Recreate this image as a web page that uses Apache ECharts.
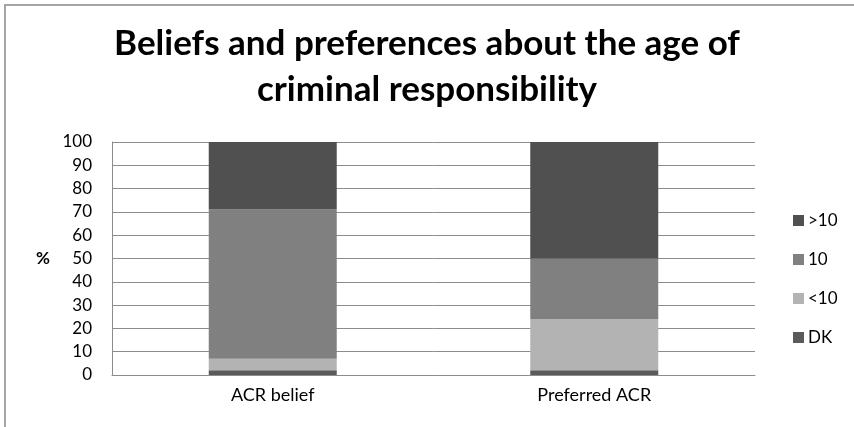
<!DOCTYPE html>
<html><head><meta charset="utf-8">
<script src="https://cdn.jsdelivr.net/npm/echarts@6/dist/echarts.min.js"></script>
<style>html,body{margin:0;padding:0;background:#fff}#c{width:854px;height:427px}</style>
</head><body><div id="c"></div>
<script>
const categories = ['ACR belief', 'Preferred ACR'];
const dk = [2, 2];
const lt10 = [5, 22];
const eq10 = [64, 26];
const gt10 = [29, 50];
const yTicks = [0, 10, 20, 30, 40, 50, 60, 70, 80, 90, 100];

const FONT = 'Lato';
const chart = echarts.init(document.getElementById('c'), null, {renderer: 'canvas'});
const mk = (name, data, color) => ({
  name, type: 'bar', stack: 'a', data, barWidth: 128,
  itemStyle: {color}, emphasis: {disabled: true}
});
chart.setOption({
  animation: false,
  textStyle: {fontFamily: FONT},
  title: {
    text: 'Beliefs and preferences about the age of\ncriminal responsibility',
    left: 'center', top: 16,
    textStyle: {fontFamily: FONT, fontWeight: 'bold', fontSize: 35, color: '#000', lineHeight: 46}
  },
  graphic: [{type: 'rect', shape: {x: 5, y: 5, width: 1000, height: 1000},
    style: {fill: 'none', stroke: '#a6a6a6', lineWidth: 2}, silent: true},
    {type: 'text', left: 36, top: 250, style: {text: '%', font: 'bold 17px ' + FONT, fill: '#000'}}],
  legend: {
    orient: 'vertical', left: 788, top: 207, itemWidth: 11, itemHeight: 11, itemGap: 22,
    icon: 'rect', data: ['>10', '10', '<10', 'DK'],
    textStyle: {fontFamily: FONT, fontSize: 17, color: '#000', padding: [0, 0, 0, -1]}
  },
  grid: {left: 112, right: 99, top: 142, bottom: 52, containLabel: false},
  xAxis: {
    type: 'category', data: categories,
    axisLine: {lineStyle: {color: '#8c8c8c', width: 1}},
    axisTick: {show: false},
    axisLabel: {fontFamily: FONT, fontSize: 18, color: '#000', margin: 11}
  },
  yAxis: {
    type: 'value', min: 0, max: 100, interval: 10,
    axisLine: {show: true, lineStyle: {color: '#8c8c8c'}},
    axisTick: {show: false},
    splitLine: {lineStyle: {color: '#8c8c8c', width: 1}},
    axisLabel: {fontFamily: FONT, fontSize: 17, color: '#000', margin: 20,
      formatter: v => yTicks.includes(v) ? String(v) : ''}
  },
  series: [
    mk('DK', dk, '#5a5a5a'),
    mk('<10', lt10, '#b3b3b3'),
    mk('10', eq10, '#808080'),
    mk('>10', gt10, '#505050')
  ]
});
</script></body></html>
